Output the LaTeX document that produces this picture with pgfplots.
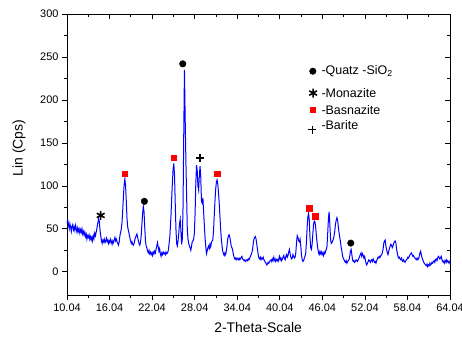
\documentclass[border=0pt]{standalone}
\usepackage{pgfplots}
\pgfplotsset{compat=1.18}
\usepackage{fontspec}
\setmainfont{Liberation Sans}
\definecolor{curve}{RGB}{0,0,255}
\definecolor{sq}{RGB}{255,0,0}
\begin{document}
\begin{tikzpicture}
\path[use as bounding box] (-67bp,-43bp) rectangle (395bp,295bp);
\pgfplotsset{common/.style={
  at={(0,0)}, anchor=south west,
  scale only axis, width=383bp, height=281bp,
  xmin=10.04, xmax=64.04, ymin=-27, ymax=300,
  xtick={10.04,16.04,22.04,28.04,34.04,40.04,46.04,52.04,58.04,64.04},
  ytick={0,50,100,150,200,250,300},
  minor x tick num=1, minor y tick num=1,
  major tick length=5bp, minor tick length=3bp,
  every tick/.style={black, line width=0.7bp},
  axis line style={black, line width=0.8bp},
  /pgf/number format/assume math mode=true,
  tick label style={font=\fontsize{11}{13}\selectfont},
}}
\begin{axis}[common,
  axis x line*=bottom, axis y line*=left, tick align=outside,
  xticklabels={10.04,16.04,22.04,28.04,34.04,40.04,46.04,52.04,58.04,64.04},
  xlabel={2-Theta-Scale}, ylabel={Lin (Cps)},
  label style={font=\fontsize{14}{16}\selectfont},
  xlabel style={at={(axis description cs:0.499,-0.117)}, anchor=center},
  ylabel style={at={(axis description cs:-0.125,0.523)}, anchor=center},
  clip=false]
\addplot[curve, line width=1bp, mark=none] coordinates {
(10.04,57)(10.15,60)(10.25,55)(10.35,50)(10.45,56)(10.55,52)(10.65,47)(10.75,53)(10.85,55)(10.95,49)
(11.05,52)(11.15,48)(11.25,54)(11.35,50)(11.45,46)(11.55,51)(11.65,47)(11.75,50)(11.85,45)(11.95,49)
(12.05,46)(12.15,50)(12.25,44)(12.35,47)(12.45,43)(12.55,46)(12.65,41)(12.75,44)(12.85,38)(12.95,42)
(13.05,40)(13.15,43)(13.25,38)(13.35,41)(13.45,37)(13.55,40)(13.65,36)(13.75,42)(13.85,39)(13.95,45)
(14.05,42)(14.2,48)(14.35,55)(14.5,62)(14.6,58)(14.7,48)(14.8,42)(14.9,36)(15.0,33)(15.1,37)
(15.2,35)(15.3,38)(15.4,34)(15.5,36)(15.6,39)(15.7,35)(15.8,37)(15.9,33)(16.0,36)(16.1,34)
(16.2,38)(16.3,35)(16.4,32)(16.5,36)(16.6,34)(16.7,37)(16.8,40)(16.9,36)(17.0,38)(17.1,35)
(17.2,33)(17.3,31)(17.4,35)(17.5,42)(17.6,46)(17.7,50)(17.8,58)(17.9,72)(18.0,88)(18.1,102)
(18.2,108)(18.3,100)(18.4,82)(18.5,62)(18.6,52)(18.7,48)(18.8,44)(18.9,40)(19.0,36)(19.1,33)
(19.2,35)(19.3,32)(19.4,31)(19.5,33)(19.6,37)(19.7,40)(19.8,42)(19.9,44)(20.0,40)(20.1,36)
(20.2,33)(20.3,31)(20.4,34)(20.5,42)(20.6,55)(20.7,68)(20.8,76)(20.9,70)(21.0,52)(21.1,36)
(21.2,30)(21.3,28)(21.4,24)(21.5,22)(21.6,25)(21.7,21)(21.8,23)(21.9,20)(22.0,22)(22.1,19)
(22.2,23)(22.3,21)(22.4,24)(22.5,22)(22.6,26)(22.7,30)(22.8,34)(22.9,29)(23.0,24)(23.1,27)
(23.2,21)(23.3,18)(23.4,22)(23.5,20)(23.6,23)(23.7,21)(23.8,22)(23.9,20)(24.0,23)(24.1,21)
(24.2,22)(24.3,24)(24.4,30)(24.55,42)(24.7,65)(24.85,95)(25.0,120)(25.1,126)(25.2,112)(25.3,80)
(25.4,50)(25.5,33)(25.6,30)(25.7,36)(25.8,45)(25.9,56)(26.0,61)(26.1,48)(26.2,32)(26.3,38)
(26.4,75)(26.5,160)(26.6,235)(26.7,180)(26.8,130)(26.9,90)(27.0,50)(27.1,38)(27.2,33)(27.3,30)
(27.4,28)(27.5,25)(27.6,30)(27.7,35)(27.8,36)(27.9,38)(28.0,45)(28.1,68)(28.2,102)(28.3,124)
(28.4,118)(28.5,100)(28.6,95)(28.7,112)(28.8,123)(28.9,110)(29.0,82)(29.1,80)(29.2,86)(29.3,70)
(29.4,55)(29.5,40)(29.6,30)(29.7,21)(29.8,24)(29.9,28)(30.0,30)(30.1,27)(30.2,32)(30.3,29)
(30.4,34)(30.5,36)(30.6,37)(30.7,48)(30.8,65)(30.9,82)(31.0,96)(31.1,104)(31.2,107)(31.3,102)
(31.4,92)(31.5,80)(31.6,65)(31.7,50)(31.8,38)(31.9,30)(32.0,24)(32.1,21)(32.2,19)(32.3,22)
(32.4,20)(32.5,24)(32.6,30)(32.7,38)(32.8,42)(32.9,43)(33.0,40)(33.1,35)(33.2,30)(33.3,28)
(33.4,25)(33.5,20)(33.6,17)(33.7,15)(33.8,16)(33.9,14)(34.0,16)(34.1,15)(34.2,14)(34.3,16)
(34.4,14)(34.5,15)(34.6,17)(34.7,18)(34.8,15)(34.9,14)(35.0,13)(35.1,14)(35.2,12)(35.3,13)
(35.4,14)(35.5,13)(35.6,15)(35.7,14)(35.8,16)(35.9,18)(36.0,20)(36.1,22)(36.2,26)(36.3,33)
(36.4,38)(36.5,40)(36.6,41)(36.7,38)(36.8,32)(36.9,26)(37.0,20)(37.1,16)(37.2,15)(37.3,17)
(37.4,14)(37.5,16)(37.6,15)(37.7,17)(37.8,14)(37.9,13)(38.0,11)(38.1,10)(38.2,8)(38.3,9)
(38.4,11)(38.5,10)(38.6,12)(38.7,13)(38.8,14)(38.9,12)(39.0,15)(39.1,13)(39.2,17)(39.3,14)
(39.4,12)(39.5,15)(39.6,13)(39.7,14)(39.8,12)(39.9,15)(40.0,18)(40.1,14)(40.2,16)(40.3,13)
(40.4,15)(40.5,17)(40.6,19)(40.7,15)(40.8,14)(40.9,18)(41.0,20)(41.1,17)(41.2,19)(41.3,23)
(41.4,26)(41.5,21)(41.6,17)(41.7,15)(41.8,16)(41.9,20)(42.0,18)(42.1,16)(42.2,17)(42.3,22)
(42.4,34)(42.5,42)(42.6,40)(42.7,36)(42.8,35)(42.9,38)(43.0,30)(43.1,20)(43.2,14)(43.3,12)
(43.4,13)(43.5,16)(43.6,18)(43.7,22)(43.8,35)(43.9,52)(44.0,64)(44.1,68)(44.2,60)(44.3,40)
(44.4,28)(44.5,26)(44.6,32)(44.7,44)(44.8,55)(44.9,59)(45.0,58)(45.1,52)(45.2,42)(45.3,34)
(45.4,27)(45.5,22)(45.6,20)(45.7,24)(45.8,21)(45.9,23)(46.0,20)(46.1,22)(46.2,19)(46.3,23)
(46.4,21)(46.5,24)(46.6,26)(46.7,30)(46.8,45)(46.9,62)(47.0,70)(47.1,55)(47.2,38)(47.3,33)
(47.4,34)(47.5,36)(47.6,38)(47.7,42)(47.8,48)(47.9,56)(48.0,60)(48.1,63)(48.2,60)(48.3,52)
(48.4,45)(48.5,40)(48.6,35)(48.7,28)(48.8,24)(48.9,18)(49.0,16)(49.1,14)(49.2,12)(49.3,11)
(49.4,13)(49.5,10)(49.6,12)(49.7,13)(49.8,14)(49.9,18)(50.0,24)(50.1,26)(50.2,20)(50.3,14)
(50.4,12)(50.5,13)(50.6,11)(50.7,12)(50.8,14)(50.9,13)(51.0,12)(51.1,14)(51.2,16)(51.3,18)
(51.4,20)(51.5,22)(51.6,18)(51.7,21)(51.8,19)(51.9,16)(52.0,18)(52.1,14)(52.2,10)(52.3,8)
(52.4,10)(52.5,12)(52.6,14)(52.7,13)(52.8,11)(52.9,13)(53.0,14)(53.1,12)(53.2,15)(53.3,13)
(53.4,11)(53.5,12)(53.6,10)(53.7,13)(53.8,15)(53.9,17)(54.0,16)(54.1,18)(54.2,17)(54.3,19)
(54.4,20)(54.5,22)(54.6,26)(54.7,33)(54.8,36)(54.9,37)(55.0,30)(55.1,26)(55.2,22)(55.3,20)
(55.4,24)(55.5,27)(55.6,30)(55.7,32)(55.8,31)(55.9,28)(56.0,30)(56.1,33)(56.2,35)(56.3,36)
(56.4,34)(56.5,27)(56.6,22)(56.7,18)(56.8,16)(56.9,17)(57.0,15)(57.1,14)(57.2,16)(57.3,13)
(57.4,12)(57.5,14)(57.6,12)(57.7,11)(57.8,13)(57.9,14)(58.0,15)(58.1,17)(58.2,16)(58.3,18)
(58.4,20)(58.5,21)(58.6,22)(58.7,20)(58.8,18)(58.9,19)(59.0,17)(59.1,16)(59.2,15)(59.3,14)
(59.4,16)(59.5,14)(59.6,15)(59.7,18)(59.8,22)(59.9,24)(60.0,20)(60.1,16)(60.2,14)(60.3,12)
(60.4,10)(60.5,9)(60.6,8)(60.7,7)(60.8,9)(60.9,6)(61.0,8)(61.1,7)(61.2,10)(61.3,8)
(61.4,9)(61.5,11)(61.6,10)(61.7,12)(61.8,13)(61.9,11)(62.0,14)(62.1,15)(62.2,13)(62.3,16)
(62.4,18)(62.5,17)(62.6,15)(62.7,16)(62.8,18)(62.9,14)(63.0,12)(63.1,11)(63.2,13)(63.3,10)
(63.4,12)(63.5,14)(63.6,11)(63.7,13)(63.8,12)(63.9,10)(64.04,13)
};
% Quartz markers
\addplot[only marks, mark=*, mark size=3.3pt, black] coordinates {(20.95,82)(26.36,242)(50.05,33.4)(44.7,233.4)};
% Monazite
\addplot[only marks, mark=asterisk, mark size=4.5pt, black, line width=1.6bp] coordinates {(14.79,65.6)(44.74,208)};
% Basnazite
\addplot[only marks, mark=square*, mark size=2.8pt, sq, draw=sq] coordinates {(18.18,114)(25.09,133)(31.25,114)(44.17,74)(45.07,65)(44.66,188.8)};
% Barite
\addplot[only marks, mark=+, mark size=4pt, black, line width=1.4bp] coordinates {(28.8,132.5)(44.65,165.5)};
\node[anchor=west, font=\fontsize{12.5}{14}\selectfont, inner sep=0pt] at (axis cs:45.9,233.4) {-Quatz -SiO\textsubscript{2}};
\node[anchor=west, font=\fontsize{12.5}{14}\selectfont, inner sep=0pt] at (axis cs:45.9,208) {-Monazite};
\node[anchor=west, font=\fontsize{12.5}{14}\selectfont, inner sep=0pt] at (axis cs:45.9,188.8) {-Basnazite};
\node[anchor=west, font=\fontsize{12.5}{14}\selectfont, inner sep=0pt] at (axis cs:45.9,170.2) {-Barite};
\end{axis}
\begin{axis}[common,
  axis x line*=top, axis y line*=right, tick align=inside,
  xticklabels={}, yticklabels={}]
\addplot[draw=none] coordinates {(10.04,0)};
\end{axis}
\end{tikzpicture}
\end{document}
